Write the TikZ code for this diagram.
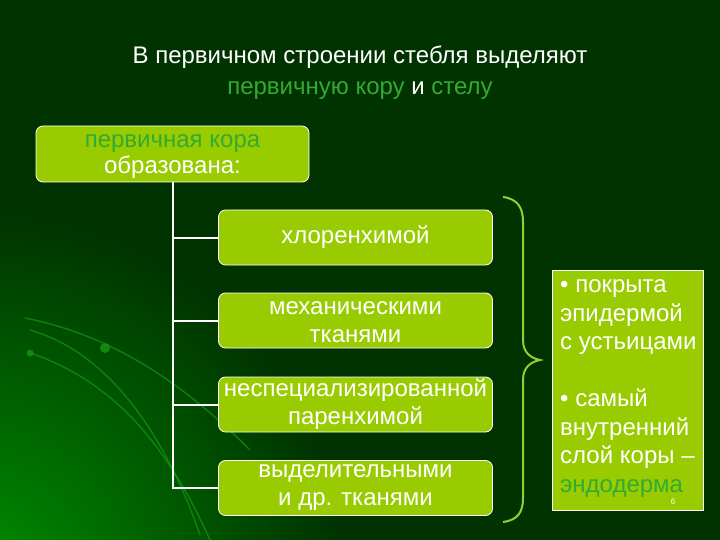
\documentclass[tikz,border=0pt]{standalone}
\usepackage{fontspec}
\setmainfont{Liberation Sans}
\definecolor{bg}{RGB}{0,51,0}
\definecolor{glow}{RGB}{0,140,0}
\definecolor{boxfill}{RGB}{153,204,0}
\definecolor{txtgreen}{RGB}{51,170,51}
\definecolor{bracecol}{RGB}{153,204,51}
\definecolor{arccol}{RGB}{20,150,20}
\begin{document}
\begin{tikzpicture}[x=1pt,y=-1pt,
  titletext/.style={text=white, font=\fontsize{24}{31}\selectfont, inner sep=0pt, align=center},
  gbox/.style={draw=white, line width=0.8pt, fill=boxfill, rounded corners=7pt, text=white,
    align=center, font=\fontsize{24}{28}\selectfont, inner sep=0pt,
    minimum width=274pt, minimum height=55pt},
  rbox/.style={draw=white, line width=0.8pt, fill=boxfill, inner sep=0pt},
  rtext/.style={text=white, align=left, font=\fontsize{24}{28.5}\selectfont, inner sep=0pt},
  tree/.style={draw=white, line width=2pt},
  deco/.style={draw=arccol, line width=1.4pt, opacity=0.7},
  bracestyle/.style={draw=bracecol, line width=2pt}
]
% background
\fill[bg] (0,0) rectangle (720,540);
\begin{scope}
  \clip (0,0) rectangle (720,540);
  \shade[inner color=glow, outer color=bg] (-20,570) circle (360pt);
  \draw[deco] (25,318) .. controls (110,335) and (180,380) .. (250,450);
  \draw[deco] (30,330) .. controls (100,350) and (160,420) .. (200,535);
  \draw[deco] (30,353) .. controls (110,380) and (165,440) .. (210,540);
  \fill[arccol, opacity=0.8] (105,348) circle (5pt);
  \fill[arccol, opacity=0.8] (30,353) circle (3.5pt);
\end{scope}
\useasboundingbox (0,0) rectangle (720,540);

% title
\node[titletext] (title) at (360,73) {В первичном строении стебля выделяют\\
  \textcolor{txtgreen}{первичную кору} и \textcolor{txtgreen}{стелу}};

% main box
\node[gbox, minimum width=273pt, minimum height=56pt, font=\fontsize{24}{26}\selectfont]
  (kora) at (172.5,154) {\rule{0pt}{17pt}\textcolor{txtgreen}{первичная кора}\\образована:};

% sub boxes
\node[gbox] (b1) at (355.5,237.5) {хлоренхимой};
\node[gbox] (b2) at (355.5,320.5) {\rule{0pt}{16pt}механическими\\тканями};
\node[gbox] (b3) at (355.5,404.5) {неспециализированной\\паренхимой};
\node[gbox] (b4) at (355.5,488) {выделительными\\и др. тканями};

% tree connectors
\draw[tree] (kora.south) |- (b4.west);
\draw[tree] (kora.south |- b1.west) -- (b1.west);
\draw[tree] (kora.south |- b2.west) -- (b2.west);
\draw[tree] (kora.south |- b3.west) -- (b3.west);

% brace
\draw[bracestyle] (503,197) .. controls (518,199) and (523,208) .. (523,222)
  -- (523,340) .. controls (523,352) and (530,358) .. (540,360)
  .. controls (530,362) and (523,368) .. (523,380)
  -- (523,498) .. controls (523,512) and (518,520) .. (503,522);

% right box
\node[rbox, minimum width=151pt, minimum height=240pt, anchor=north west] (rb) at (552,270) {};
\node[rtext, anchor=base west] (rt) at (560,492) {• покрыта\\эпидермой\\с устьицами\\[28.5pt]• самый\\внутренний\\слой коры –\\\textcolor{txtgreen}{эндодерма}};
\node[text=white, font=\fontsize{8}{8}\selectfont, inner sep=0pt, anchor=north] (pg) at (673,498.5) {6};
\end{tikzpicture}
\end{document}
